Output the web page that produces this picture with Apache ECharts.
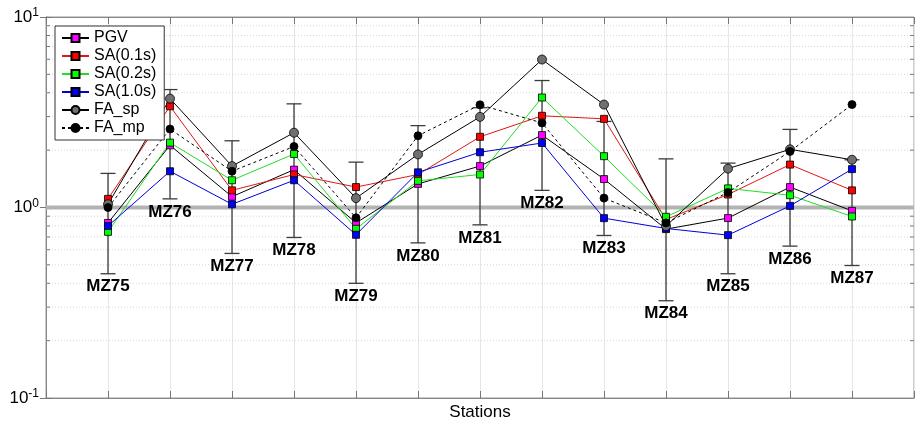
<!DOCTYPE html>
<html>
<head>
    <meta charset="utf-8">
    <script type="text/javascript" src="https://cdn.jsdelivr.net/npm/echarts@6/dist/echarts.min.js"></script>
    <title>Stations</title>
</head>
<body style="margin:0;background:#fff;">
    <div id="container" style="width:915px;height:424px;"></div>
    <script type="text/javascript">
    // station names (x positions 1..13)
    var stations = ['MZ75', 'MZ76', 'MZ77', 'MZ78', 'MZ79', 'MZ80', 'MZ81', 'MZ82', 'MZ83', 'MZ84', 'MZ85', 'MZ86', 'MZ87'];

    // values
    var pgv  = [0.83, 2.12, 1.14, 1.58, 0.83, 1.33, 1.65, 2.40, 1.41, 0.77, 0.88, 1.28, 0.96];
    var sa01 = [1.11, 3.40, 1.23, 1.49, 1.28, 1.49, 2.35, 3.03, 2.92, 0.865, 1.17, 1.68, 1.23];
    var sa02 = [0.745, 2.19, 1.39, 1.91, 0.773, 1.38, 1.49, 3.78, 1.86, 0.894, 1.26, 1.16, 0.897];
    var sa10 = [0.80, 1.55, 1.04, 1.39, 0.719, 1.53, 1.95, 2.18, 0.879, 0.776, 0.716, 1.02, 1.59];
    var faSp = [1.04, 3.73, 1.65, 2.47, 1.12, 1.90, 2.99, 5.98, 3.47, 0.80, 1.60, 2.02, 1.78];
    var faMp = [1.00, 2.58, 1.55, 2.09, 0.883, 2.38, 3.46, 2.78, 1.12, 0.83, 1.20, 1.97, 3.47];

    // error bars
    var errLow  = [0.449, 1.11, 0.574, 0.696, 0.40, 0.652, 0.811, 1.23, 0.713, 0.324, 0.449, 0.627, 0.496];
    var errHigh = [1.51, 4.16, 2.24, 3.50, 1.73, 2.69, 3.34, 4.64, 2.83, 1.80, 1.71, 2.57, 1.78];

    // axis
    var xMax = 14;
    var refLevel = 1;
    var minorTicks = [0.2, 0.3, 0.4, 0.5, 0.6, 0.7, 0.8, 0.9, 2, 3, 4, 5, 6, 7, 8, 9];

    var myChart = echarts.init(document.getElementById('container'));

    function pts(arr) {
        return arr.map(function (v, i) { return [i + 1, v]; });
    }

    var font = '"Liberation Sans", Arial, Helvetica, sans-serif';

    function lineSeries(name, data, fill, lineColor, symbol, size, dashed) {
        return {
            name: name,
            type: 'line',
            data: pts(data),
            symbol: symbol,
            symbolSize: size,
            z: 3,
            itemStyle: { color: fill, borderColor: '#000', borderWidth: 0.8 },
            lineStyle: { color: lineColor, width: 1, type: dashed ? [3, 3] : 'solid' }
        };
    }

    var expLabel = {
        formatter: function (v) {
            var e = Math.round(Math.log(v) / Math.LN10);
            return '{b|10}{s|' + e + '}';
        },
        margin: 7,
        rich: {
            b: { fontSize: 17, lineHeight: 20, fontFamily: font, color: '#000' },
            s: { fontSize: 12, lineHeight: 12, fontFamily: font, color: '#000', verticalAlign: 'top' }
        }
    };

    var option = {
        animation: false,
        grid: {
            left: 46, right: 1, top: 17, bottom: 26,
            outerBoundsMode: 'none',
            show: true, borderColor: '#999', borderWidth: 1, backgroundColor: '#fff'
        },
        legend: {
            data: ['PGV', 'SA(0.1s)', 'SA(0.2s)', 'SA(1.0s)', 'FA_sp', 'FA_mp'],
            orient: 'vertical',
            left: 55, top: 26,
            backgroundColor: '#fff',
            borderColor: '#333', borderWidth: 1,
            padding: [4, 8, 4, 6],
            itemWidth: 27, itemHeight: 10, itemGap: 2,
            textStyle: { fontSize: 16, lineHeight: 14, color: '#000', fontFamily: font }
        },
        xAxis: [{
            type: 'value', min: 0, max: xMax, interval: 1,
            name: 'Stations', nameLocation: 'middle', nameGap: 6,
            nameTextStyle: { fontSize: 17, color: '#000', fontFamily: font },
            axisLabel: { show: false },
            axisLine: { lineStyle: { color: '#888' } },
            axisTick: { inside: true, length: 7, lineStyle: { color: '#777' } },
            splitLine: { show: true, lineStyle: { color: '#e6e6e6', width: 1 } }
        }, {
            type: 'value', min: 0, max: xMax, interval: 1, position: 'top',
            axisLabel: { show: false },
            axisLine: { lineStyle: { color: '#888' } },
            axisTick: { inside: true, length: 7, lineStyle: { color: '#777' } },
            splitLine: { show: false }
        }],
        yAxis: [{
            type: 'log', logBase: 10, min: 0.1, max: 10,
            axisLabel: expLabel,
            axisLine: { show: true, lineStyle: { color: '#888' } },
            axisTick: { show: true, inside: true, length: 6, lineStyle: { color: '#777' } },
            splitLine: { show: false }
        }, {
            type: 'log', logBase: 10, min: 0.1, max: 10, position: 'right',
            axisLabel: { show: false },
            axisLine: { show: true, lineStyle: { color: '#888' } },
            axisTick: { show: true, inside: true, length: 6, lineStyle: { color: '#777' } },
            splitLine: { show: false }
        }],
        series: [
            // minor grid lines and minor ticks
            {
                type: 'custom',
                silent: true,
                z: 1,
                data: minorTicks.map(function (v) { return [0, v]; }),
                encode: { x: 0, y: 1 },
                renderItem: function (params, api) {
                    var v = api.value(1);
                    var p1 = api.coord([0, v]);
                    var p2 = api.coord([xMax, v]);
                    var tk = { stroke: '#777', lineWidth: 1 };
                    return {
                        type: 'group',
                        children: [
                            { type: 'line', shape: { x1: p1[0], y1: p1[1], x2: p2[0], y2: p2[1] },
                              style: { stroke: '#d6d6d6', lineWidth: 1, lineDash: [1, 2] } },
                            { type: 'line', shape: { x1: p1[0], y1: p1[1], x2: p1[0] + 4, y2: p1[1] }, style: tk },
                            { type: 'line', shape: { x1: p2[0] - 4, y1: p2[1], x2: p2[0], y2: p2[1] }, style: tk }
                        ]
                    };
                }
            },
            // reference line at 10^0
            {
                name: 'ref',
                type: 'line',
                silent: true,
                z: 1,
                symbol: 'none',
                data: [[0, refLevel], [xMax, refLevel]],
                lineStyle: { color: '#b3b3b3', width: 4 }
            },
            // error bars and station labels
            {
                type: 'custom',
                silent: true,
                z: 2,
                data: stations.map(function (s, i) { return [i + 1, errLow[i], errHigh[i]]; }),
                encode: { x: 0, y: [1, 2] },
                renderItem: function (params, api) {
                    var x = api.value(0);
                    var lo = api.coord([x, api.value(1)]);
                    var hi = api.coord([x, api.value(2)]);
                    var cap = 7.5;
                    var st = { stroke: '#3c3c3c', lineWidth: 1.3 };
                    return {
                        type: 'group',
                        children: [
                            { type: 'line', shape: { x1: hi[0], y1: hi[1], x2: lo[0], y2: lo[1] }, style: st },
                            { type: 'line', shape: { x1: hi[0] - cap, y1: hi[1], x2: hi[0] + cap, y2: hi[1] }, style: st },
                            { type: 'line', shape: { x1: lo[0] - cap, y1: lo[1], x2: lo[0] + cap, y2: lo[1] }, style: st },
                            { type: 'text', style: {
                                text: stations[params.dataIndex],
                                x: lo[0], y: lo[1] + 13,
                                align: 'center', verticalAlign: 'middle',
                                font: 'bold 17px ' + font, fill: '#000'
                            } }
                        ]
                    };
                }
            },
            lineSeries('PGV', pgv, '#ff00ff', '#000', 'rect', 7, false),
            lineSeries('SA(0.1s)', sa01, '#ff0000', '#e01818', 'rect', 7, false),
            lineSeries('SA(0.2s)', sa02, '#00ff00', '#22dd22', 'rect', 7, false),
            lineSeries('SA(1.0s)', sa10, '#0000ff', '#0000dd', 'rect', 7, false),
            lineSeries('FA_sp', faSp, '#707070', '#000', 'circle', 9, false),
            lineSeries('FA_mp', faMp, '#000', '#000', 'circle', 8, true)
        ]
    };

    myChart.setOption(option);
    </script>
</body>
</html>
